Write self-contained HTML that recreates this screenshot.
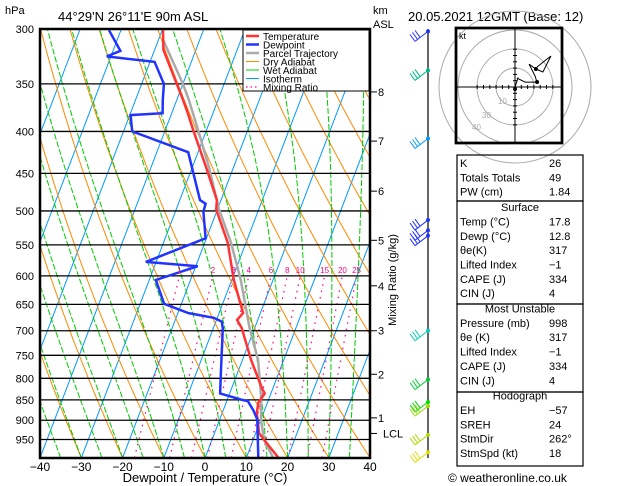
<!DOCTYPE html>
<html><head><meta charset="utf-8"><style>
body{margin:0;background:#fff;}
svg{display:block;font-family:"Liberation Sans",sans-serif;}
</style></head><body>
<svg id="c" width="629" height="486" viewBox="0 0 629 486">
<defs><clipPath id="pc"><rect x="40" y="29" width="330" height="429"/></clipPath></defs>
<g id="bg" clip-path="url(#pc)"></g>
<g id="plines"></g>
<g id="prof" clip-path="url(#pc)"></g>
<rect x="40" y="29" width="330" height="429" fill="none" stroke="#000" stroke-width="2.5"/>
<text x="5" y="14" font-size="11">hPa</text>
<text x="58" y="21" font-size="13">44°29'N  26°11'E  90m  ASL</text>
<text x="373" y="14" font-size="11">km</text>
<text x="373" y="28" font-size="11">ASL</text>
<text x="408" y="21" font-size="13">20.05.2021  12GMT  (Base: 12)</text>
<text x="205" y="482" font-size="13" text-anchor="middle">Dewpoint / Temperature (°C)</text>
<text transform="translate(396,280) rotate(-90)" font-size="11" text-anchor="middle">Mixing Ratio (g/kg)</text>
<g id="xt"></g>
<g id="km"></g>
<g id="leg">
<rect x="243" y="30" width="126" height="61" fill="#fff" stroke="#000" stroke-width="1"/>
</g>
<g id="wind"></g>
<g id="hodo"></g>
<g id="tbl"></g>
<text x="448" y="482" font-size="12">© weatheronline.co.uk</text>
</svg>
<script>
const tempP=[1000,957,933,882,857,835,822,760,695,679,666,651,607,547,498,485,442,398,380,366,318,300];
const tempT=[17.8,13.3,10.8,8.4,7.8,8.5,7.3,2.1,-3.1,-5.0,-4.2,-5.5,-9.5,-14.4,-20.3,-21,-26.7,-33.3,-36.1,-38.5,-47.9,-49.9];
const dewP=[1000,898,874,853,849,841,835,781,695,682,675,666,649,607,584,577,540,501,490,485,424,400,382,380,366,350,329,328,324,319,301];
const dewT=[12.9,9.1,7.2,5.1,3.2,0.1,-2.3,-4.3,-7.7,-8.6,-10.9,-17.5,-24.2,-28.4,-19.5,-32.5,-20.2,-23.2,-23.4,-25.1,-32.4,-47.9,-49.8,-42.2,-43.4,-44.6,-48.9,-51.4,-61,-58.2,-62.9];
const parcelP=[1000,950,900,840,760,695,607,547,498,442,398,366,350,310];
const parcelT=[16.5,12.6,10.1,7.8,3.8,-1.2,-7.8,-13.6,-19.6,-26,-32.1,-37.1,-40,-48.7];
const pLevels=[300,350,400,450,500,550,600,650,700,750,800,850,900,950];
const xTicks=[-40,-30,-20,-10,0,10,20,30,40];
const kmVals=["8","7","6","5","4","3","2","1"];
const kmP=[358,411,473,543,617,700,791,894];
const lclP=934;
const mixW=[1,2,3,4,6,8,10,15,20,25];
const hodoU=[0,1.6,1,5.3,11.6,10.5,7.4,11,14.7,18.9,11.6];
const hodoV=[0,4.7,4.7,2.6,2.6,5.8,12,9.5,7.9,16.3,10.5];
const windP=[302,337,408,513,528,536,700,803,855,865,938,985];
const windCol=["#2233ff","#00bb88","#0099ff","#2233ff","#2233ff","#2233ff","#00ccbb","#00cc33","#00dd00","#99dd00","#aadd00","#dddd00"];
const tblRows=[["K","26"],["Totals Totals","49"],["PW (cm)","1.84"],["|Surface",""],["Temp (°C)","17.8"],["Dewp (°C)","12.8"],["θe(K)","317"],["Lifted Index","−1"],["CAPE (J)","334"],["CIN (J)","4"],["|Most Unstable",""],["Pressure (mb)","998"],["θe (K)","317"],["Lifted Index","−1"],["CAPE (J)","334"],["CIN (J)","4"],["|Hodograph",""],["EH","−57"],["SREH","24"],["StmDir","262°"],["StmSpd (kt)","18"]];

const NS="http://www.w3.org/2000/svg";
function el(t,a,parent){const e=document.createElementNS(NS,t);for(const k in a)e.setAttribute(k,a[k]);parent.appendChild(e);return e;}
function yOf(p){return 29+820*Math.log10(p/300);}
function xOf(T,p){return 205+4.125*T+0.382*(458-yOf(p));}
function pts(P,T){return P.map((p,i)=>xOf(T[i],p).toFixed(1)+","+yOf(p).toFixed(1)).join(" ");}
const bg=document.getElementById('bg');
for(let T=-120;T<=40;T+=10){const l=el('line',{x1:xOf(T,1000),y1:yOf(1000),x2:xOf(T,300),y2:yOf(300),stroke:'#0099ff','stroke-width':1},bg);
}
for(let th=-80;th<=170;th+=10){const P=[],T=[];for(let p=1000;p>=300;p-=20){P.push(p);T.push((th+273.15)*Math.pow(p/1000,0.286)-273.15);}
const l=el('polyline',{points:pts(P,T),fill:'none',stroke:'#ff8800','stroke-width':1},bg);
}
function es(Tc){return 6.112*Math.exp(17.67*Tc/(Tc+243.5));}
for(let t0=-40;t0<=45;t0+=5){let T=t0+273.15;const P=[],TT=[];for(let p=1000;p>=300;p-=5){P.push(p);TT.push(T-273.15);
const rs=0.622*es(T-273.15)/(p-es(T-273.15));const dTdp=(287*T+2.5e6*rs)/(p*(1004+2.5e6*2.5e6*rs*0.622/(287*T*T)));T-=dTdp*5;}
const l=el('polyline',{points:pts(P,TT),fill:'none',stroke:'#00cc00','stroke-width':1,'stroke-dasharray':'6,2'},bg);
}
function tdOf(w,p){const e=w*p/(622+w);const g=Math.log(e/6.112);return 243.5*g/(17.67-g);}
mixW.forEach(w=>{const P=[1000,600];const T=P.map(p=>tdOf(w,p));
const l=el('polyline',{points:pts(P,T),fill:'none',stroke:'#ff0088','stroke-width':1.2,'stroke-dasharray':'1.5,5'},bg);

const t=el('text',{x:xOf(tdOf(w,600),600),y:273,'font-size':8,fill:'#ff0088','text-anchor':'middle'},document.getElementById('c'));t.textContent=w;
});
const pl=document.getElementById('plines');
pLevels.forEach(p=>{const y=yOf(p);const l=el('line',{x1:40,y1:y,x2:370,y2:y,stroke:'#000','stroke-width':1.3},pl);

const t=el('text',{x:34,y:y+4,'font-size':11,'text-anchor':'end'},pl);t.textContent=p;
});
const pr=document.getElementById('prof');
let l=el('polyline',{points:pts(parcelP,parcelT),fill:'none',stroke:'#aaaaaa','stroke-width':2.5},pr);

l=el('polyline',{points:pts(tempP,tempT),fill:'none',stroke:'#ff3333','stroke-width':2.5},pr);

l=el('polyline',{points:pts(dewP,dewT),fill:'none',stroke:'#2233ff','stroke-width':2.5},pr);

const xt=document.getElementById('xt');
xTicks.forEach(T=>{const x=205+4.125*T;const t=el('text',{x:x,y:471,'font-size':12,'text-anchor':'middle'},xt);t.textContent=(T<0?'−'+(-T):T);
});
const km=document.getElementById('km');
kmVals.forEach((v,i)=>{const y=yOf(kmP[i]);el('line',{x1:370,y1:y,x2:377,y2:y,stroke:'#000'},km);
const t=el('text',{x:378,y:y+4,'font-size':11},km);t.textContent=v;});
{const y=yOf(lclP);el('line',{x1:370,y1:y,x2:377,y2:y,stroke:'#000'},km);const t=el('text',{x:383,y:y+4,'font-size':11},km);t.textContent='LCL';
}
const lg=document.getElementById('leg');
[["Temperature","#ff3333",2.5,""],["Dewpoint","#2233ff",2.5,""],["Parcel Trajectory","#aaaaaa",2.5,""],["Dry Adiabat","#ff8800",1,""],["Wet Adiabat","#00cc00",1,""],["Isotherm","#0099ff",1,""],["Mixing Ratio","#ff0088",1.2,"1.5,3"]].forEach((e,i)=>{
const y=36+i*8.5;el('line',{x1:246,y1:y,x2:259,y2:y,stroke:e[1],'stroke-width':e[2],'stroke-dasharray':e[3]||'none'},lg);
const t=el('text',{x:263,y:y+4,'font-size':10},lg);t.textContent=e[0];});
const wd=document.getElementById('wind');
el('line',{x1:428,y1:29,x2:428,y2:458,stroke:'#000','stroke-width':1.2},wd);
windP.forEach((p,i)=>{const y=yOf(p),c=windCol[i];const g=el('g',{},wd);
el('circle',{cx:428,cy:y,r:2,fill:c},g);
el('line',{x1:428,y1:y,x2:415,y2:y+10,stroke:c,'stroke-width':1},g);
for(let k=0;k<3;k++){const bx=415+k*2.5,by=y+10-k*2;el('line',{x1:bx,y1:by,x2:bx-5,y2:by-7,stroke:c,'stroke-width':1},g);}});
const hd=document.getElementById('hodo');
el('rect',{x:456,y:28,width:106,height:115,fill:'#fff',stroke:'#000','stroke-width':2.5},hd);
const cx=515,cy=87,sc=1.9;
[19,38,57,76].forEach(r=>el('circle',{cx:cx,cy:cy,r:r,fill:'none',stroke:'#aaa','stroke-width':1},hd));
el('rect',{x:456,y:28,width:106,height:115,fill:'none',stroke:'#000','stroke-width':2.5},hd);
el('line',{x1:457,y1:cy,x2:561,y2:cy,stroke:'#000'},hd);el('line',{x1:cx,y1:29,x2:cx,y2:142,stroke:'#000'},hd);
for(let k=-6;k<=6;k++){if(cx+k*6.3<560)el('line',{x1:cx+k*6.3,y1:cy-2,x2:cx+k*6.3,y2:cy+2,stroke:'#000'},hd);el('line',{x1:cx-2,y1:cy+k*6.3,x2:cx+2,y2:cy+k*6.3,stroke:'#000'},hd);}
let t=el('text',{x:459,y:39,'font-size':9},hd);t.textContent='kt';
[["10",498,104],["30",482,118],["40",472,130]].forEach(a=>{const tt=el('text',{x:a[1],y:a[2],'font-size':8,fill:'#aaa'},hd);tt.textContent=a[0];});
const hp=el('polyline',{points:hodoU.map((u,i)=>(cx+u*sc).toFixed(1)+","+(cy-hodoV[i]*sc).toFixed(1)).join(" "),fill:'none',stroke:'#000','stroke-width':1},hd);

el('circle',{cx:cx,cy:cy+2,r:2,fill:'#000'},hd);
el('circle',{cx:cx+11.6*sc,cy:cy-2.6*sc,r:2,fill:'#000'},hd);
el('circle',{cx:cx+11*sc,cy:cy-9.5*sc,r:2,fill:'#000'},hd);
const tb=document.getElementById('tbl');
const secs=[[155,201],[201,304],[304,392],[392,466]];
secs.forEach(s=>el('rect',{x:457,y:s[0],width:126,height:s[1]-s[0],fill:'none',stroke:'#000','stroke-width':1.2},tb));
let y=167;
tblRows.forEach((r,i)=>{if(i===3||i===10||i===16)y+=1;
if(r[0][0]==='|'){const tt=el('text',{x:520,y:y,'font-size':11,'text-anchor':'middle'},tb);tt.textContent=r[0].slice(1);}
else{const a=el('text',{x:460,y:y,'font-size':11},tb);a.textContent=r[0];
const b=el('text',{x:549,y:y,'font-size':11},tb);b.textContent=r[1];}
y+=14.35;});
</script>
</body></html>
